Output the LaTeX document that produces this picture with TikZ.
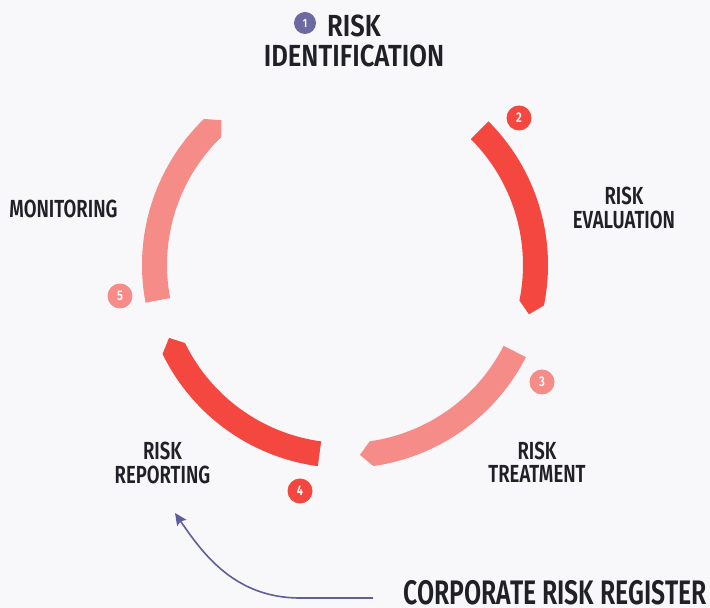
\documentclass[tikz,border=0pt]{standalone}
\usepackage{fontspec}
\setmainfont{Fira Sans}[UprightFont=* SemiBold, BoldFont=* SemiBold, FakeStretch=0.75]
\newfontfamily\titlefont{Fira Sans}[UprightFont=* SemiBold, BoldFont=* SemiBold, FakeStretch=0.84]
\newfontfamily\bigfont{Fira Sans}[UprightFont=* SemiBold, BoldFont=* SemiBold, FakeStretch=0.73]
\newfontfamily\badgefont{Fira Sans}[UprightFont=* SemiBold, BoldFont=* SemiBold, FakeStretch=0.8]
\usetikzlibrary{arrows.meta}
\definecolor{bg}{HTML}{F8F8FA}
\definecolor{redc}{HTML}{F4473F}
\definecolor{pinkc}{HTML}{F68C88}
\definecolor{purp}{HTML}{6C6AA0}
\definecolor{arrc}{HTML}{5F5E9A}
\definecolor{ink}{HTML}{202027}
\tikzset{
  badge/.style={circle, inner sep=0pt, minimum size=25pt, text=white, font=\badgefont\fontsize{14}{14}\selectfont},
  lbl/.style={text=ink, align=center, inner sep=0pt, font=\fontsize{24.7}{23.5}\selectfont},
  title/.style={text=ink, align=center, inner sep=0pt, font=\titlefont\fontsize{30.5}{30}\selectfont},
  big/.style={text=ink, inner sep=0pt, font=\bigfont\fontsize{34}{36}\selectfont},
  conn/.style={draw=arrc, line width=1.6pt, -{Stealth[length=12pt,width=11pt,inset=2pt]}}
}
\begin{document}
\begin{tikzpicture}[x=1pt,y=1pt]
\fill[bg] (0,0) rectangle (710,608);
\useasboundingbox (0,0) rectangle (710,608);
\begin{scope}[shift={(345,343)}]
  % segment 2 (evaluation)
  \fill[redc] (45:203) arc[start angle=45, end angle=-11.5, radius=203]
    -- (-15:190.5) -- (-11.5:178) arc[start angle=-11.5, end angle=45, radius=178] -- cycle;
  % segment 3 (treatment)
  \fill[pinkc] (-27:203) arc[start angle=-27, end angle=-82, radius=203]
    -- (-85.5:190.5) -- (-82:178) arc[start angle=-82, end angle=-27, radius=178] -- cycle;
  % segment 4 (reporting)
  \fill[redc] (262.3:203) arc[start angle=262.3, end angle=206, radius=203]
    -- (202.5:190.5) -- (206:178) arc[start angle=206, end angle=262.3, radius=178] -- cycle;
  % segment 5 (monitoring)
  \fill[pinkc] (190.7:203) arc[start angle=190.7, end angle=134, radius=203]
    -- (130.5:190.5) -- (134:178) arc[start angle=134, end angle=190.7, radius=178] -- cycle;
\end{scope}

\node[badge, fill=purp, minimum size=22pt, font=\badgefont\fontsize{12}{12}\selectfont] (b1) at (305,585) {1};
\node[badge, fill=redc] (b2) at (519,490) {2};
\node[badge, fill=pinkc] (b3) at (542,226) {3};
\node[badge, fill=redc] (b4) at (300,117) {4};
\node[badge, fill=pinkc] (b5) at (120,312) {5};

\node[title] (ident) at (354,567.5) {RISK\\IDENTIFICATION};
\node[lbl] (eval) at (624,400) {RISK\\EVALUATION};
\node[lbl] (monit) at (63.5,399.5) {MONITORING};
\node[lbl] (treat) at (537,145.5) {RISK\\TREATMENT};
\node[lbl] (report) at (162.5,145) {RISK\\REPORTING};
\node[big, anchor=east] (crr) at (707,15) {CORPORATE RISK REGISTER};

\coordinate (arrS) at (373,10);
\coordinate (arrE) at (175,95);
\draw[conn] (arrS) -- (300,10) .. controls (235,10) and (203,54) .. (arrE);
\end{tikzpicture}
\end{document}
